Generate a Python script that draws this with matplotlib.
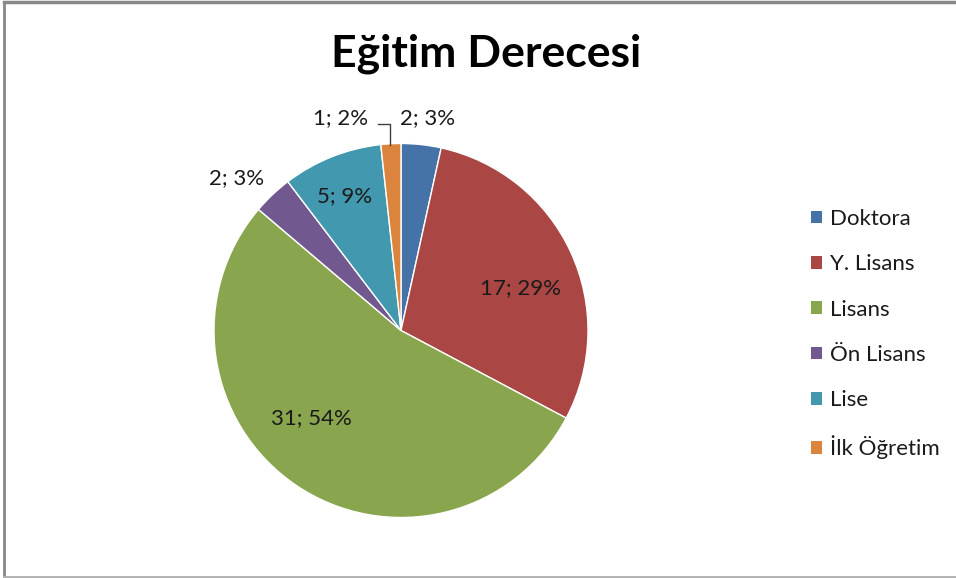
import matplotlib
matplotlib.use("Agg")
import matplotlib.pyplot as plt
from matplotlib.patches import Patch
from matplotlib.lines import Line2D

categories = ["Doktora", "Y. Lisans", "Lisans", "Ön Lisans", "Lise", "İlk Öğretim"]
values = [2, 17, 31, 2, 5, 1]
percents = ["3%", "29%", "54%", "3%", "9%", "2%"]
colors = ["#4572A7", "#AA4643", "#89A54E", "#71588F", "#4198AF", "#DB843D"]
title = "Eğitim Derecesi"

W, H = 956, 578
fig = plt.figure(figsize=(W / 100, H / 100), dpi=100)
ax = fig.add_axes([0, 0, 1, 1])

font = "Lato"
cx, cy, r = 401, H - 330.5, 187
wedges, _ = ax.pie(values, colors=colors, startangle=90, counterclock=False,
                   center=(cx, cy), radius=r, frame=True,
                   wedgeprops=dict(edgecolor="white", linewidth=1.0))
ax.set_xlim(0, W)
ax.set_ylim(0, H)
ax.set_aspect("equal")
ax.axis("off")

labels = [f"{v}; {p}" for v, p in zip(values, percents)]
# label positions in pixel coordinates (image y downward)
label_pos = [(428, 118), (521, 288), (311, 418), (237, 178), (345, 196), (341, 118)]
for lab, (px, py) in zip(labels, label_pos):
    ax.text(px, H - py, lab, ha="center", va="center", fontsize=16,
            family=font, color="#1a1a1a")

# leader line for the smallest slice
ax.add_line(Line2D([378, 390, 390], [H - 124, H - 124, H - 145],
                   color="#404040", linewidth=1.0))

ax.text(486, H - 54, title, ha="center", va="center", fontsize=32,
        fontweight="bold", family=font, color="black")

handles = [Patch(facecolor=c, edgecolor="none") for c in colors]
leg = ax.legend(handles, categories, loc="upper left",
                bbox_to_anchor=(802 / W, 1 - 200 / H), frameon=False,
                prop=dict(family=font, size=16), handlelength=0.48,
                handleheight=0.48, handletextpad=0.4, labelspacing=1.14,
                borderaxespad=0)
for t in leg.get_texts():
    t.set_color("#1a1a1a")

# chart frame
ax.add_line(Line2D([4, 4], [0, H - 2], color="#888888", linewidth=2))
ax.add_line(Line2D([4, W], [H - 2, H - 2], color="#888888", linewidth=2.5))
ax.add_line(Line2D([4, W], [1.5, 1.5], color="#b0b0b0", linewidth=2))

fig.savefig("out.png", dpi=100)
